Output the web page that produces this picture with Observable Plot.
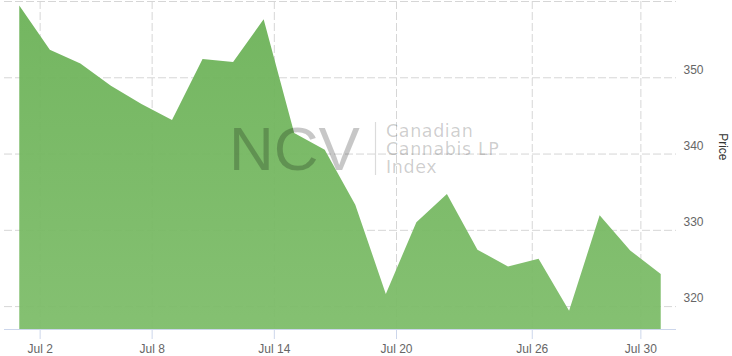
<!DOCTYPE html>
<html>
<head>
<meta charset="utf-8">
<script src="https://cdn.jsdelivr.net/npm/d3@7"></script>
<script src="https://cdn.jsdelivr.net/npm/@observablehq/plot@0.6"></script>
<style>
html, body { margin: 0; padding: 0; background: #fff; }
#chart { width: 732px; height: 356px; overflow: hidden; }
</style>
</head>
<body>
<div id="chart"></div>
<script>
// ---- data ----
const dates = ["2020-07-01","2020-07-03","2020-07-06","2020-07-07","2020-07-08","2020-07-09","2020-07-10",
  "2020-07-13","2020-07-14","2020-07-15","2020-07-16","2020-07-17","2020-07-20","2020-07-21","2020-07-22",
  "2020-07-23","2020-07-24","2020-07-27","2020-07-28","2020-07-29","2020-07-30","2020-07-31"];
const prices = [359.4, 353.6, 351.8, 348.9, 346.5, 344.4, 352.4, 352.0, 357.6, 342.7, 340.5,
  333.3, 321.6, 331.0, 334.7, 327.4, 325.2, 326.2, 319.4, 331.9, 327.3, 324.2];
const tickDates = ["2020-07-02","2020-07-08","2020-07-14","2020-07-20","2020-07-26","2020-07-30"];
const tickLabels = ["Jul 2","Jul 8","Jul 14","Jul 20","Jul 26","Jul 30"];
const yTickValues = [320, 330, 340, 350];
const yGridValues = [320, 330, 340, 350, 360];
const yAxisTitle = "Price";
const watermarkMain = "NCV";
const watermarkLines = ["Canadian", "Cannabis LP", "Index"];

// ---- ordinal (trading-day) x axis: points evenly spaced, ticks interpolated by time ----
const toTime = d => +new Date(d + "T00:00:00Z");
const times = dates.map(toTime);
const ordinal = d3.scaleLinear().domain(times).range(d3.range(times.length));
const displayOffset = 8 * 3600e3; // chart shown in UTC-8
const tickPos = tickDates.map(d => ordinal(toTime(d) + displayOffset));
const labelAt = new Map(tickPos.map((p, i) => [p, tickLabels[i]]));
const data = prices.map((price, i) => ({i, date: dates[i], price}));
const yDomain = [317, 360];

const gradientDefs = () => {
  const defs = d3.create("svg:defs");
  const lg = defs.append("linearGradient").attr("id", "areaGrad")
    .attr("x1", 0).attr("y1", 0).attr("x2", 0).attr("y2", 1);
  lg.append("stop").attr("offset", "0%").attr("stop-color", "#6cb258");
  lg.append("stop").attr("offset", "100%").attr("stop-color", "#7ebd6a");
  return defs.node();
};

const chart = Plot.plot({
  width: 732,
  height: 356,
  marginLeft: 4,
  marginRight: 56,
  marginTop: 1,
  marginBottom: 27,
  style: {fontFamily: "'Liberation Sans', Arial, sans-serif", fontSize: "12px", background: "#fff"},
  x: {domain: [-0.5, prices.length - 0.5], axis: null},
  y: {domain: yDomain, axis: null},
  marks: [
    gradientDefs,
    Plot.gridY(yGridValues, {stroke: "#d6d6d6", strokeOpacity: 1, strokeDasharray: "8,3"}),
    Plot.gridX(tickPos, {stroke: "#d6d6d6", strokeOpacity: 1, strokeDasharray: "8,3"}),
    Plot.areaY(data, {x: "i", y1: () => yDomain[0], y2: "price", fill: "url(#areaGrad)", fillOpacity: 0.95}),
    Plot.ruleY([yDomain[0]], {stroke: "#ccd6eb"}),
    Plot.axisX(tickPos, {tickSize: 10, tickPadding: 5, stroke: "#ccd6eb", fill: "#666", fontSize: 12,
      tickFormat: d => labelAt.get(d), label: null}),
    Plot.axisY(yTickValues, {anchor: "right", tickSize: 0, tickPadding: 7, fill: "#666", fontSize: 12,
      dy: -8, label: null}),
    Plot.text([yAxisTitle], {text: d => d, frameAnchor: "right", dx: 46, dy: -5, rotate: 90, fill: "#333", fontSize: 12})
  ]
});

// ---- watermark overlay ----
const svg = d3.select(chart);
const wm = svg.append("g").attr("pointer-events", "none").attr("text-anchor", "start");
wm.append("text").attr("x", 229).attr("y", 170)
  .attr("font-family", "'Liberation Sans', Arial, sans-serif").attr("font-size", 62)
  .attr("fill", "rgba(0,0,0,0.22)").text(watermarkMain);
wm.append("line").attr("x1", 375.5).attr("x2", 375.5).attr("y1", 122).attr("y2", 175)
  .attr("stroke", "rgba(0,0,0,0.14)").attr("stroke-width", 1.2);
wm.selectAll("text.sub").data(watermarkLines).join("text").attr("class", "sub")
  .attr("x", 386).attr("y", (d, i) => 137.3 + i * 17.8)
  .attr("font-family", "'DejaVu Sans', Verdana, sans-serif").attr("font-size", 17.5)
  .attr("letter-spacing", 0.6)
  .attr("fill", "rgba(0,0,0,0.2)").text(d => d);

document.getElementById("chart").appendChild(chart);
</script>
</body>
</html>
